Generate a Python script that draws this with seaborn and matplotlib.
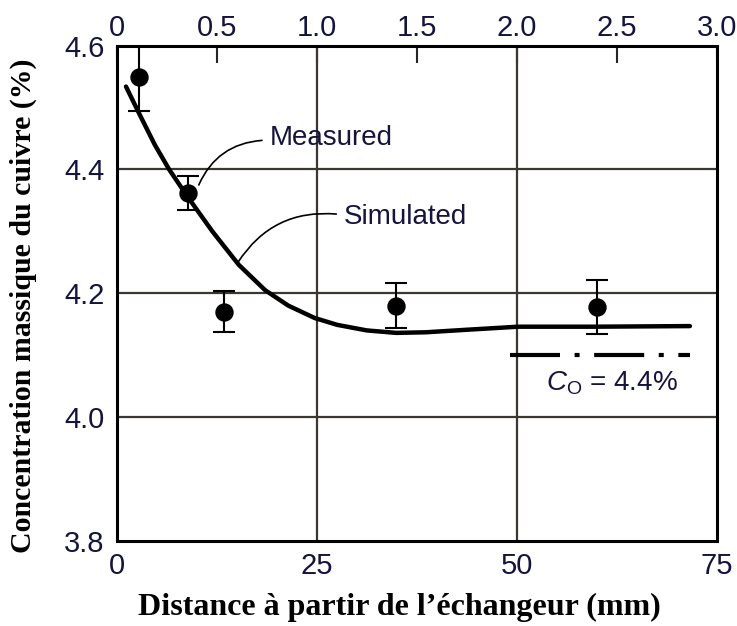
import numpy as np
import pandas as pd
import matplotlib
matplotlib.use("Agg")
import matplotlib.pyplot as plt
import seaborn as sns

# measured points (distance in mm, Cu mass concentration in %)
meas_x = [2.7, 8.8, 13.3, 34.8, 60.0]
meas_y = [4.55, 4.362, 4.17, 4.18, 4.178]
meas_err = [0.055, 0.028, 0.033, 0.036, 0.044]

# simulated profile
sim_x = [1.1, 2.8, 4.7, 6.5, 8.8, 11.9, 15.2, 18.5, 21.4, 24.7, 27.5,
         31.2, 34.9, 38.6, 43.6, 50.1, 59.6, 71.6]
sim_y = [4.534, 4.489, 4.440, 4.400, 4.356, 4.300, 4.246, 4.205, 4.180, 4.160, 4.149,
         4.140, 4.136, 4.137, 4.141, 4.146, 4.146, 4.147]

# initial concentration reference line
c0_x = [49.1, 71.6]
c0_y = [4.10, 4.10]

x_ticks = [0, 25, 50, 75]
x_top_ticks = [0, 0.5, 1.0, 1.5, 2.0, 2.5, 3.0]
x_top_labels = ["0", "0.5", "1.0", "1.5", "2.0", "2.5", "3.0"]
y_ticks = [3.8, 4.0, 4.2, 4.4, 4.6]
y_labels = ["3.8", "4.0", "4.2", "4.4", "4.6"]

sns.set_style("white")
plt.rcParams["font.family"] = ["Liberation Sans", "DejaVu Sans"]
plt.rcParams["mathtext.fontset"] = "custom"
plt.rcParams["mathtext.rm"] = "Liberation Sans"
plt.rcParams["mathtext.it"] = "Liberation Sans:italic"

sim_df = pd.DataFrame({"x": sim_x, "y": sim_y})
meas_df = pd.DataFrame({"x": meas_x, "y": meas_y})

fig, ax = plt.subplots(figsize=(7.37, 6.26), dpi=100)
fig.subplots_adjust(left=0.159, right=0.973, top=0.927, bottom=0.136)

grid_col = "#3b3630"
for gx in [25, 50]:
    ax.axvline(gx, color=grid_col, lw=1.6, zorder=1)
for gy in [4.0, 4.2, 4.4]:
    ax.axhline(gy, color=grid_col, lw=1.6, zorder=1)

sns.lineplot(data=sim_df, x="x", y="y", ax=ax, color="black", lw=3.2,
             sort=False, estimator=None, zorder=3)
ax.errorbar(meas_x, meas_y, yerr=meas_err, fmt="none", ecolor="black",
            elinewidth=1.5, capsize=8, capthick=1.5, zorder=4)
sns.scatterplot(data=meas_df, x="x", y="y", ax=ax, color="black", s=150,
                edgecolor="black", zorder=5)
ax.plot(c0_x, c0_y, color="black", lw=3, linestyle=(0, (12, 3.5, 1.2, 3.5)),
        solid_capstyle="butt", zorder=3)

# labels with leader lines
txt_col = "#14143c"
ax.text(19.1, 4.451, "Measured", fontsize=20, color=txt_col, ha="left", va="center")
ax.annotate("", xy=(10.2, 4.375), xytext=(18.1, 4.447),
            arrowprops=dict(arrowstyle="-", color="black", lw=1.2,
                            connectionstyle="arc3,rad=0.3", shrinkA=0, shrinkB=0))
ax.text(28.3, 4.324, "Simulated", fontsize=20, color=txt_col, ha="left", va="center")
ax.annotate("", xy=(15.1, 4.250), xytext=(27.4, 4.328),
            arrowprops=dict(arrowstyle="-", color="black", lw=1.2,
                            connectionstyle="arc3,rad=0.3", shrinkA=0, shrinkB=0))
ax.text(61.8, 4.055, r"$\mathit{C}_{\mathrm{O}}$ = 4.4%", fontsize=20, color=txt_col,
        ha="center", va="center")

ax.set_xlim(0, 75)
ax.set_ylim(3.8, 4.6)
ax.set_xticks(x_ticks)
ax.set_xticklabels([str(v) for v in x_ticks])
ax.set_yticks(y_ticks)
ax.set_yticklabels(y_labels)
ax.tick_params(axis="both", length=0, labelsize=21, labelcolor=txt_col)
ax.tick_params(axis="x", pad=8)
ax.tick_params(axis="y", pad=9)

top = ax.secondary_xaxis("top", functions=(lambda v: v / 25, lambda v: v * 25))
top.set_xticks(x_top_ticks)
top.set_xticklabels(x_top_labels)
top.tick_params(direction="in", length=12, width=1.5, labelsize=21,
                labelcolor=txt_col, pad=3)
top.spines["top"].set_visible(False)

for side in ["left", "right", "top", "bottom"]:
    ax.spines[side].set_visible(True)
    ax.spines[side].set_color("black")
    ax.spines[side].set_linewidth(2.2)

ax.set_xlabel("Distance à partir de l\u2019échangeur (mm)", fontsize=23,
              fontweight="bold", family="Liberation Serif", color="black")
ax.xaxis.set_label_coords(0.47, -0.105)
ax.set_ylabel("Concentration massique du cuivre (%)", fontsize=21.5,
              fontweight="bold", family="Liberation Serif", color="black")
ax.yaxis.set_label_coords(-0.133, 0.475)

fig.savefig("out.png", dpi=100)
